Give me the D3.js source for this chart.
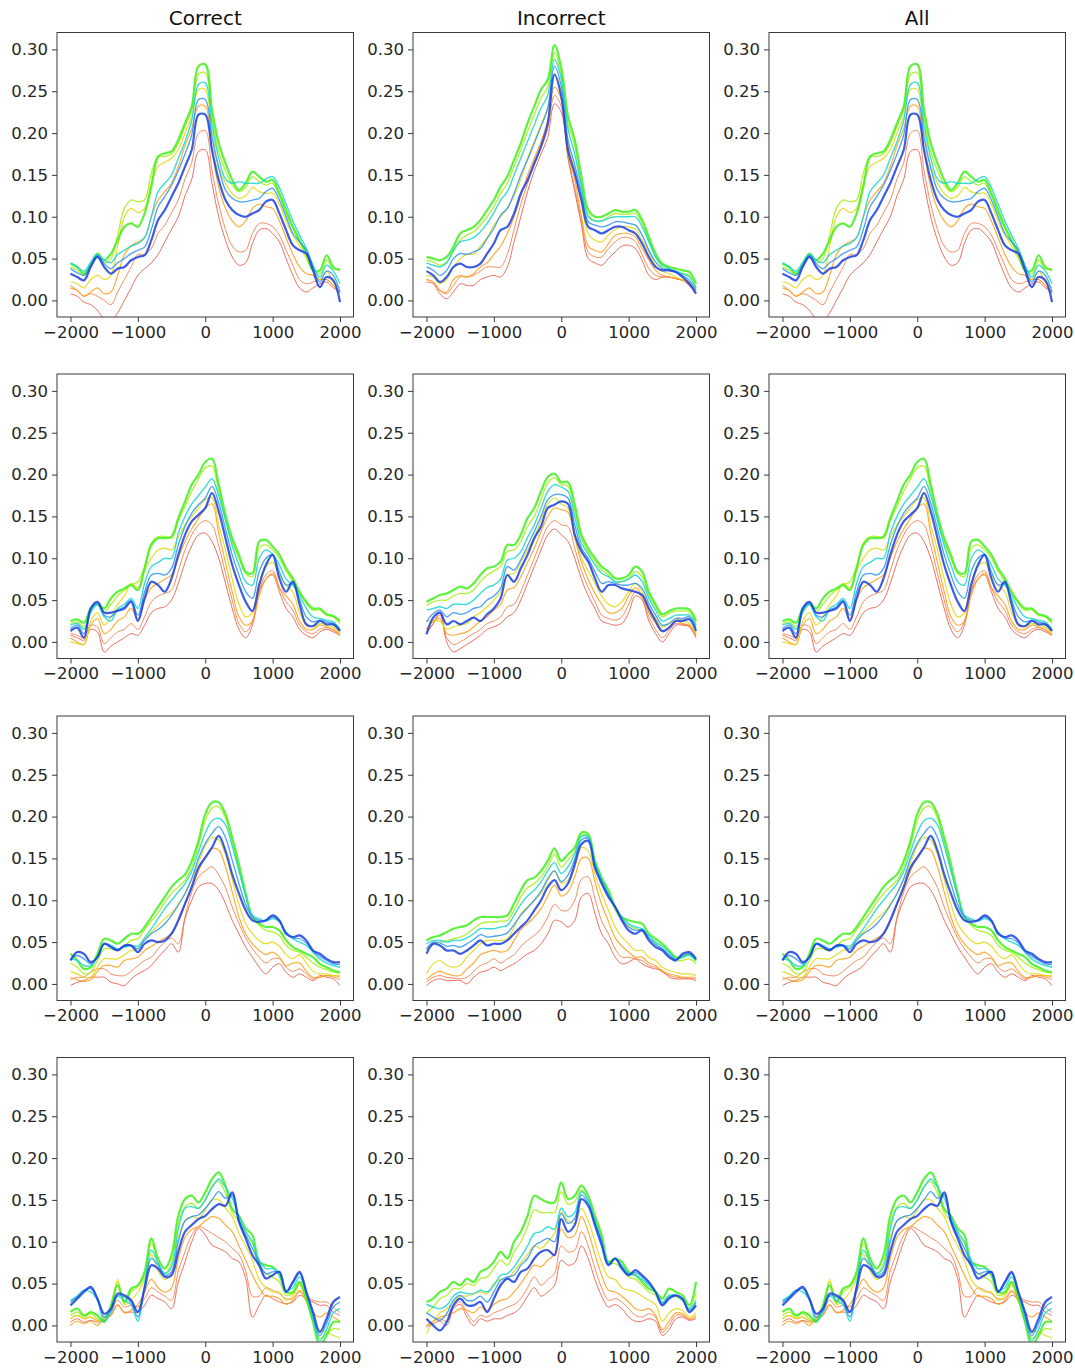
<!DOCTYPE html>
<html>
<head>
<meta charset="utf-8">
<script src="https://cdn.jsdelivr.net/npm/d3@7"></script>
<style>
  body { margin: 0; background: #fff; }
  svg { display: block; }
  text { font-family: 'DejaVu Sans', sans-serif; }
</style>
</head>
<body>
<svg id="fig" width="1075" height="1370"></svg>
<script>
// Sample times (ms) shared by every trace
const timesMs = d3.range(-2000, 2001, 100);
const xTickValues = [-2000, -1000, 0, 1000, 2000];
const yTickValues = [0, 0.05, 0.10, 0.15, 0.20, 0.25, 0.30];
const columnTitles = ["Correct", "Incorrect", "All"];

// One trace per colour step, red -> blue
const traceColors = ["#e8432f", "#f36a2e", "#ff9f1a", "#e0d80c", "#a6ee14", "#3ff01c", "#18d6cc", "#2a92f0", "#1b3fe0"];
const traceWidths = [0.9, 0.9, 1.2, 1.2, 1.3, 2.2, 1.4, 1.3, 2.2];

// Traces per panel, values in units of 1e-3
const correctRow1 = [
  [8,5,-2,-5,-12,-22,-25,-15,0,15, 30,38,45,55,70,85,100,125,145,178, 180,140,100,72,52,42,45,68,84,86, 80,70,50,30,15,10,15,20,22,15, 10],
  [18,12,5,8,5,0,-5,10,25,40, 55,55,62,80,90,105,120,145,165,200, 203,155,115,85,65,58,60,80,92,92, 88,78,60,42,25,20,22,25,25,18, 10],
  [15,12,5,10,15,8,10,30,55,65, 70,75,100,120,130,140,160,185,205,232, 232,180,135,110,95,88,95,110,115,112, 110,95,75,55,40,32,30,25,25,18, 8],
  [22,20,15,25,30,25,30,65,100,110, 105,110,140,160,165,170,180,200,220,252, 252,200,160,140,128,122,125,135,130,128, 128,115,95,78,65,50,35,25,35,22, 15],
  [40,36,30,40,52,45,50,78,110,120, 118,120,152,172,172,175,188,208,228,270, 272,218,178,155,138,130,135,148,142,138, 140,125,104,86,70,55,38,32,48,38, 38],
  [44,40,32,44,56,48,56,72,88,92, 88,104,136,172,176,178,192,212,232,280, 282,228,188,164,144,132,140,154,148,142, 144,128,108,88,72,56,36,36,54,40, 36],
  [45,40,35,45,55,48,45,55,60,65, 68,75,100,130,140,150,170,190,215,258, 260,210,170,145,140,142,140,140,140,145, 148,135,115,95,78,62,42,28,42,35, 20],
  [38,33,30,42,54,44,38,45,50,56, 60,64,85,112,124,138,155,175,198,240, 240,195,158,132,122,118,118,120,122,130, 134,120,100,80,70,60,40,22,35,30, 10],
  [32,28,24,40,52,40,32,38,40,48, 52,54,72,96,108,124,140,160,180,222, 222,180,144,120,108,102,100,104,108,118, 120,104,84,66,60,56,36,16,28,24, -2]
];
const incorrectRow1 = [
  [22,20,8,2,10,20,18,18,25,28, 30,28,40,70,100,130,155,175,195,235, 225,170,130,90,50,45,42,50,58,65, 66,62,48,30,25,28,28,26,24,18, 10],
  [25,22,12,8,18,28,28,30,35,40, 40,40,55,85,115,140,162,182,205,245, 232,172,135,95,58,52,52,62,70,75, 75,70,55,38,30,28,28,26,24,18, 10],
  [25,22,12,10,25,30,28,32,40,45, 55,65,80,100,125,150,170,190,215,255, 240,175,145,100,65,60,58,68,78,80, 80,76,62,48,36,30,28,26,24,20, 10],
  [30,28,20,25,40,50,55,55,65,75, 90,100,110,125,145,170,190,210,230,270, 250,185,155,115,80,72,70,78,85,88, 88,85,72,58,42,35,32,28,25,22, 12],
  [48,46,42,46,58,72,78,82,90,100, 112,128,140,160,180,202,222,242,255,296, 270,212,185,140,102,95,95,100,104,103, 103,104,92,72,52,40,36,34,32,30, 16],
  [52,50,48,52,64,80,84,88,96,108, 120,136,148,168,188,212,232,252,264,305, 278,220,192,148,108,100,100,104,108,106, 106,108,96,76,56,44,40,38,36,34, 20],
  [45,42,40,45,60,70,72,75,82,92, 105,120,130,150,170,190,210,230,245,288, 265,205,175,135,100,95,95,98,100,100, 100,100,88,70,52,42,38,35,32,28, 15],
  [40,36,30,36,50,56,55,58,62,74, 86,102,110,128,150,168,188,208,230,280, 256,192,162,128,94,90,88,90,94,94, 92,90,78,60,46,38,37,34,30,24, 12],
  [35,30,22,28,40,44,40,40,44,56, 68,84,88,104,128,144,164,184,212,270, 244,180,152,120,88,84,80,84,88,88, 84,80,68,52,40,36,36,34,28,20, 8]
];
const correctRow2 = [
  [8,5,2,15,12,-12,-5,0,5,10, 8,20,35,40,42,50,70,95,115,128, 130,120,100,70,40,15,5,20,60,75, 80,60,40,30,15,8,5,12,15,12, 8],
  [10,8,5,20,18,-2,5,12,15,22, 15,30,48,55,58,62,85,110,128,140, 145,140,115,82,50,22,12,25,62,80, 85,65,48,38,20,12,10,15,17,14, 8],
  [5,0,-3,20,28,10,15,25,30,40, 28,50,65,70,75,80,100,120,135,148, 160,165,130,95,60,30,20,25,55,75, 82,65,55,45,25,15,15,20,18,15, 8],
  [0,-2,-3,25,35,20,30,45,55,70, 65,85,100,110,112,110,125,140,150,160, 170,172,140,110,75,45,30,35,70,90, 95,80,68,60,35,20,18,22,20,18, 10],
  [22,24,18,38,44,36,45,55,62,68, 72,90,118,126,126,124,145,162,180,195, 208,210,180,148,120,100,82,78,112,116, 110,100,85,72,58,46,38,38,32,30, 22],
  [25,27,23,40,46,40,52,60,64,68, 62,88,116,124,124,126,148,168,188,200, 215,219,188,152,124,104,84,82,120,122, 114,104,88,76,60,48,40,40,33,31, 25],
  [20,22,15,35,45,30,25,40,45,52, 40,70,90,95,100,100,130,150,165,175, 185,195,175,145,115,92,72,68,100,110, 105,92,75,68,55,40,30,28,26,24, 15],
  [16,20,10,38,46,32,30,38,42,50, 32,60,80,82,80,88,116,138,154,164, 172,186,166,135,104,80,60,52,84,100, 104,84,68,70,50,30,24,26,24,22, 14],
  [13,17,5,40,48,35,35,37,40,48, 25,52,72,68,60,76,104,128,144,152, 160,178,156,124,92,68,48,37,68,92, 104,76,60,72,45,21,19,25,21,21, 13]
];
const incorrectRow2 = [
  [10,22,35,0,-12,-8,-3,2,8,15, 18,22,30,35,50,70,90,110,128,135, 128,120,100,75,55,40,25,22,20,22, 35,55,50,25,10,0,10,20,20,18, 5],
  [12,22,32,5,-3,0,5,10,15,22, 25,30,42,45,60,80,100,120,138,145, 140,138,112,85,65,48,32,28,26,30, 45,60,52,30,15,5,14,22,21,19, 6],
  [15,25,28,10,8,10,12,18,25,30, 38,45,62,65,78,95,112,132,150,160, 158,155,125,95,75,58,45,35,35,40, 55,65,55,35,22,12,18,25,22,20, 8],
  [25,25,25,15,18,20,22,30,35,42, 50,60,80,82,95,110,125,145,165,172, 165,160,130,100,85,70,55,45,42,48, 60,70,60,40,28,18,22,28,26,22, 10],
  [44,48,50,50,55,58,58,62,72,80, 85,90,108,110,120,138,150,170,190,196, 188,186,158,124,108,96,86,80,72,72, 76,84,78,56,42,30,34,37,37,36, 22],
  [48,52,56,58,62,66,64,70,80,88, 90,96,116,116,128,148,160,180,197,201, 191,191,164,128,112,100,90,84,76,76, 80,90,84,60,45,33,37,40,40,39, 25],
  [38,40,42,40,45,45,45,50,58,65, 68,75,98,100,108,125,140,160,180,188, 185,180,150,118,105,92,82,78,72,72, 75,80,72,52,38,25,28,32,32,32, 20],
  [24,34,38,30,35,33,35,40,42,50, 55,64,90,86,98,115,132,150,170,176, 176,172,140,112,100,84,70,72,70,68, 68,70,64,46,32,20,22,28,28,30, 16],
  [9,29,35,21,25,21,25,29,25,33, 40,52,80,72,88,104,124,138,160,164, 168,165,128,108,96,76,60,68,68,64, 62,60,56,40,25,13,17,25,25,27, 13]
];
const correctRow3 = [
  [-2,2,4,8,8,8,2,0,-2,6, 12,16,22,32,40,48,38,78,100,116, 120,120,112,96,76,60,44,32,20,12, 20,24,14,8,12,8,4,10,8,6, -2],
  [5,8,8,14,18,18,12,10,10,15, 22,28,32,42,50,55,48,80,110,128, 135,140,130,115,92,72,55,42,32,25, 30,30,20,15,18,12,6,8,10,8, 5],
  [8,5,3,5,15,22,22,20,28,30, 32,40,45,50,55,60,75,95,115,135, 152,162,160,140,110,80,60,48,40,35, 38,32,22,25,25,15,8,8,10,10, 8],
  [15,12,8,8,20,30,30,30,35,40, 42,55,62,70,78,85,95,108,125,145, 165,175,172,155,125,95,72,60,52,48, 50,45,35,30,35,25,15,12,12,10, 10],
  [25,20,12,14,28,42,42,40,46,52, 54,65,75,85,98,108,116,124,140,165, 195,210,212,198,170,138,105,80,70,64, 62,58,46,40,38,32,25,20,17,14, 13],
  [36,28,18,20,36,54,52,48,54,60, 60,68,80,92,104,116,124,131,147,171, 203,217,217,203,175,143,108,80,72,68, 68,64,52,44,40,36,32,24,20,16, 14],
  [30,28,22,22,32,48,46,42,44,46, 45,55,66,78,90,100,110,120,135,158, 180,195,198,190,165,135,105,82,78,75, 78,74,62,54,50,46,38,30,25,22, 20],
  [30,34,30,24,32,48,45,41,45,46, 42,52,60,65,72,82,94,108,126,150, 168,180,188,175,148,120,95,80,76,76, 80,75,61,55,54,49,39,33,28,24, 23],
  [28,38,36,26,32,48,44,40,46,46, 38,48,52,50,52,60,76,96,116,139, 151,163,177,159,131,108,88,76,74,76, 82,76,60,56,58,52,40,36,30,26, 26]
];
const incorrectRow3 = [
  [-2,4,6,4,4,4,0,8,14,16, 20,16,20,24,30,36,40,48,60,76, 74,68,76,104,108,84,60,48,32,24, 26,30,24,20,18,16,8,6,6,6, 4],
  [2,8,10,8,7,6,8,15,22,25, 30,25,30,35,45,52,58,66,80,95, 88,88,100,125,128,102,75,60,42,32, 32,30,28,22,20,14,10,8,7,7, 6],
  [5,12,15,12,10,10,18,25,35,38, 40,38,40,52,65,72,80,90,105,118, 105,110,128,150,150,122,95,75,55,45, 38,32,32,25,22,15,12,10,8,8, 8],
  [12,24,28,22,20,22,32,40,48,52, 52,52,54,68,84,92,100,108,124,135, 120,124,139,163,159,131,108,88,68,56, 48,40,40,32,28,20,16,14,12,12, 10],
  [40,48,50,52,54,56,60,66,72,74, 74,75,76,88,104,115,120,128,140,155, 140,148,158,178,176,144,125,108,88,76, 70,66,64,55,48,42,34,28,28,30, 24],
  [52,56,58,62,66,68,70,76,80,80, 80,80,82,96,112,124,127,135,147,162, 147,155,163,181,179,147,127,112,92,80, 76,74,72,60,54,48,40,32,32,36, 28],
  [48,52,52,50,52,52,55,60,66,66, 66,68,70,82,95,105,112,122,135,145, 132,140,155,176,176,145,125,108,92,80, 72,68,66,58,50,45,38,30,32,34, 28],
  [42,50,49,45,46,44,48,53,59,56, 57,58,61,71,82,91,100,111,126,135, 122,130,149,172,174,142,122,106,92,78, 68,64,65,55,47,42,35,29,34,36, 29],
  [36,48,46,40,40,36,40,46,52,46, 48,48,52,60,68,76,88,100,116,124, 112,120,143,167,171,139,120,104,92,76, 64,60,64,52,44,40,32,28,36,38, 30]
];
const correctRow4 = [
  [4,8,4,6,4,6,12,24,16,16, 16,24,36,32,28,20,52,76,100,116, 108,96,92,88,80,76,56,10,24,36, 32,28,26,28,36,32,28,24,24,16, 12],
  [8,12,8,10,6,8,15,30,22,24, 22,32,45,40,35,30,65,88,108,118, 115,110,105,100,92,85,65,35,35,45, 42,38,32,32,40,35,30,28,28,22, 15],
  [0,5,2,5,0,8,12,25,15,18, 25,40,55,45,40,45,80,105,115,118, 125,130,128,120,112,95,78,60,45,35, 35,32,25,30,42,28,15,10,15,10, 5],
  [8,12,8,10,5,10,20,55,25,30, 40,55,85,65,55,62,105,125,130,128, 138,150,150,140,130,110,95,78,55,45, 40,40,30,35,48,30,5,-5,-8,-12, -15],
  [12,16,10,14,8,6,22,52,26,40, 46,60,98,75,62,75,122,142,146,140, 150,166,172,158,135,124,108,98,70,62, 58,52,36,38,50,32,4,-15,-10,-4, -5],
  [16,20,12,16,12,4,24,48,28,44, 48,64,104,80,68,84,131,151,155,147, 159,175,183,167,139,131,116,108,76,72, 70,60,40,40,52,32,4,-24,-12,4, 4],
  [30,35,42,40,30,5,15,35,30,25, 5,50,90,75,62,70,115,140,142,140, 150,165,175,165,152,130,112,100,78,68, 68,62,42,45,58,38,8,-18,-5,15, 20],
  [28,34,42,44,32,10,18,36,34,28, 10,46,80,72,60,64,100,125,130,132, 140,150,160,152,156,126,108,92,75,62, 64,64,40,50,62,40,12,-12,2,22, 28],
  [24,32,40,46,32,14,20,38,36,30, 16,44,72,68,58,60,88,112,120,127, 131,139,145,143,159,124,104,84,72,56, 60,64,40,52,64,40,16,-8,8,28, 34]
];
const incorrectRow4 = [
  [-2,2,5,0,20,25,10,0,8,5, 8,8,12,15,22,35,45,35,40,48, 78,72,75,95,80,55,35,22,25,20, 10,5,5,8,5,-12,-5,8,10,6, 8],
  [0,5,8,5,22,28,15,5,12,10, 15,18,22,25,32,45,58,48,55,62, 95,88,90,112,95,68,45,30,32,28, 20,12,10,14,10,-8,0,12,12,7, 10],
  [0,5,10,12,15,20,18,15,22,18, 25,30,32,40,50,62,72,70,78,85, 115,105,108,130,112,85,60,42,40,35, 28,20,18,20,12,-5,5,15,14,8, 12],
  [-10,5,15,20,28,35,35,38,40,38, 50,55,55,65,75,85,95,92,100,110, 135,125,122,140,125,100,75,58,55,45, 42,40,35,30,25,5,15,20,18,10, 15],
  [15,22,32,36,44,44,50,48,56,58, 68,78,72,88,100,118,138,135,135,135, 160,145,148,162,150,128,104,74,74,68, 58,55,48,40,36,24,35,34,30,20, 40],
  [28,32,40,44,52,48,56,52,64,68, 76,88,80,100,112,131,155,151,147,147, 171,151,155,167,155,131,108,76,80,76, 64,60,52,44,40,32,44,40,36,24, 52],
  [25,22,20,24,35,40,38,38,42,40, 48,60,62,70,82,95,110,112,118,115, 140,130,135,160,150,125,102,74,80,72, 62,60,55,48,40,28,36,36,30,20, 30],
  [15,10,6,14,30,36,30,30,35,28, 40,54,58,60,72,80,95,100,104,100, 134,122,128,156,146,122,100,73,80,70, 61,63,58,50,40,26,34,36,31,18, 27],
  [8,0,-6,4,24,32,24,24,28,16, 32,48,56,52,64,68,80,88,90,84, 127,112,120,151,143,120,96,72,80,68, 60,66,60,52,40,24,32,36,32,16, 24]
];
// Pooled trials give the same traces as the correct trials
const allRow1 = correctRow1, allRow2 = correctRow2, allRow3 = correctRow3, allRow4 = correctRow4;

const panelGrid = [
  [correctRow1, incorrectRow1, allRow1],
  [correctRow2, incorrectRow2, allRow2],
  [correctRow3, incorrectRow3, allRow3],
  [correctRow4, incorrectRow4, allRow4]
];

// Figure layout
const colLefts = [57, 413, 769];
const rowTops = [32.5, 374, 716, 1057.5];
const panelW = 296.5, panelH = 284.5;

const svg = d3.select("#fig");
const x = d3.scaleLinear().domain([-2200, 2200]).range([0, panelW]);
const y = d3.scaleLinear().domain([-0.0198, 0.3202]).range([panelH, 0]);
const line = d3.line()
  .x((d, i) => x(timesMs[i]))
  .y(d => y(d / 1000))
  .curve(d3.curveCatmullRom.alpha(0.5));

panelGrid.forEach((row, r) => {
  row.forEach((traces, c) => {
    const g = svg.append("g").attr("transform", `translate(${colLefts[c]},${rowTops[r]})`);
    const clipId = `clip-${r}-${c}`;
    g.append("clipPath").attr("id", clipId)
      .append("rect").attr("width", panelW).attr("height", panelH);

    g.append("g").attr("clip-path", `url(#${clipId})`)
      .selectAll("path")
      .data(traces)
      .join("path")
      .attr("d", line)
      .attr("fill", "none")
      .attr("stroke", (d, i) => traceColors[i])
      .attr("stroke-width", (d, i) => traceWidths[i])
      .attr("stroke-opacity", 0.85)
      .attr("stroke-linejoin", "round");

    g.append("rect")
      .attr("width", panelW).attr("height", panelH)
      .attr("fill", "none").attr("stroke", "#3a3a3a").attr("stroke-width", 1);

    const yAxis = g.append("g")
      .call(d3.axisLeft(y).tickValues(yTickValues).tickFormat(d3.format(".2f")).tickSize(5).tickPadding(4));
    const xAxis = g.append("g").attr("transform", `translate(0,${panelH})`)
      .call(d3.axisBottom(x).tickValues(xTickValues).tickFormat(d3.format("d")).tickSize(5).tickPadding(4));
    [yAxis, xAxis].forEach(a => {
      a.select(".domain").remove();
      a.selectAll("line").attr("stroke", "#3a3a3a");
      a.selectAll("text").attr("font-size", 16.5).attr("fill", "#262626")
        .attr("font-family", "'DejaVu Sans', sans-serif");
    });

    if (r === 0) {
      svg.append("text")
        .attr("x", colLefts[c] + panelW / 2).attr("y", 25)
        .attr("text-anchor", "middle")
        .attr("font-size", 20).attr("fill", "#111")
        .text(columnTitles[c]);
    }
  });
});
</script>
</body>
</html>
